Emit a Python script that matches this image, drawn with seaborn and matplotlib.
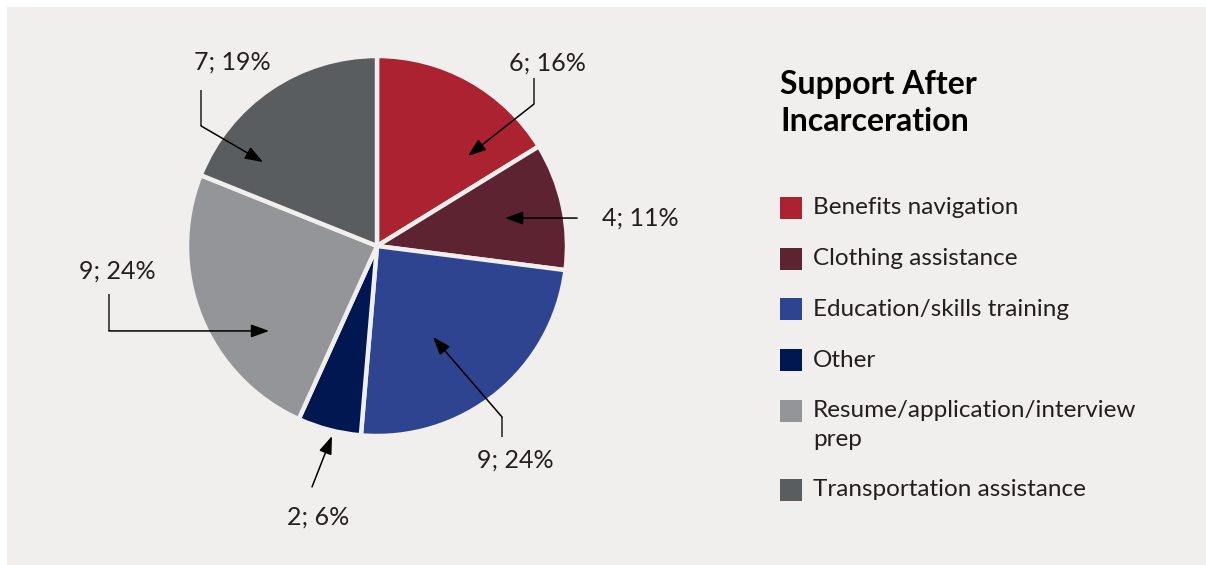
import matplotlib
matplotlib.use("Agg")
import matplotlib.pyplot as plt
from matplotlib.patches import Rectangle
import seaborn as sns

# --- data -------------------------------------------------------------
categories = [
    "Benefits navigation",
    "Clothing assistance",
    "Education/skills training",
    "Other",
    "Resume/application/interview\nprep",
    "Transportation assistance",
]
counts = [6, 4, 9, 2, 9, 7]
pct_labels = ["16%", "11%", "24%", "6%", "24%", "19%"]
colors = ["#AB2230", "#5D2330", "#2E4490", "#001751", "#949598", "#5A5D60"]
title = "Support After\nIncarceration"

# --- style ------------------------------------------------------------
sns.set_theme(style="white")
plt.rcParams["font.family"] = ["Lato", "DejaVu Sans"]
BG = "#F0EFED"
INK = "#231F20"
W, H = 1206, 565

fig = plt.figure(figsize=(W / 100, H / 100), dpi=100, facecolor="white")
fig.patches.append(Rectangle((7 / W, 0), 1 - 7 / W, 1 - 7 / H,
                             transform=fig.transFigure, facecolor=BG,
                             edgecolor="none", zorder=-10))

# pie axes: unit radius mapped to a 380 px square centred at (377, 246)
cx, cy, R = 377, 246, 190
ax = fig.add_axes([(cx - R) / W, (H - cy - R) / H, 2 * R / W, 2 * R / H])
ax.pie(counts, colors=colors, startangle=90, counterclock=False, radius=1,
       wedgeprops=dict(edgecolor=BG, linewidth=3.2))
ax.set_xlim(-1, 1)
ax.set_ylim(-1, 1)
ax.set_aspect("equal")
ax.axis("off")
ax.patch.set_visible(False)

# callout layout (unit-radius coordinates): text centre, leader path, arrow tip
callouts = [
    ((0.895, 0.963), [(0.826, 0.884), (0.826, 0.747)], (0.479, 0.474)),
    ((1.384, 0.147), [(1.053, 0.147)], (0.674, 0.147)),
    ((0.726, -1.126), [(0.658, -1.005), (0.658, -0.900)], (0.295, -0.479)),
    ((-0.311, -1.426), [(-0.342, -1.268)], (-0.237, -1.000)),
    ((-1.368, -0.132), [(-1.411, -0.253), (-1.411, -0.447)], (-0.568, -0.447)),
    ((-0.763, 0.968), [(-0.926, 0.821), (-0.926, 0.632)], (-0.600, 0.442)),
]

for n, pct, (txt, path, tip) in zip(counts, pct_labels, callouts):
    ax.text(txt[0], txt[1], f"{n}; {pct}", ha="center", va="center",
            fontsize=18, color=INK, clip_on=False)
    if len(path) > 1:
        xs, ys = zip(*path)
        ax.plot(xs, ys, color=INK, lw=1.1, clip_on=False,
                solid_capstyle="butt")
    ax.annotate("", xy=tip, xytext=path[-1], annotation_clip=False,
                arrowprops=dict(arrowstyle="-|>,head_length=11,head_width=4",
                                mutation_scale=1, color="#000000", lw=1.1,
                                shrinkA=0, shrinkB=0))

# --- legend -----------------------------------------------------------
def fy(py):
    return 1 - py / H

fig.text(780 / W, fy(103), title, ha="left", va="center", fontsize=23,
         fontweight="bold", color="#000000", linespacing=1.32)

row_y = 208
for cat, col in zip(categories, colors):
    fig.patches.append(Rectangle((780 / W, fy(row_y + 11)), 22 / W, 22 / H,
                                 transform=fig.transFigure, facecolor=col,
                                 edgecolor="none"))
    lines = cat.split("\n")
    for k, line in enumerate(lines):
        fig.text(813 / W, fy(row_y + 28.5 * k), line, ha="left", va="center",
                 fontsize=17.5, color=INK)
    row_y += 50.7 + 28.5 * (len(lines) - 1)

fig.savefig("out.png", dpi=100, facecolor=fig.get_facecolor())
